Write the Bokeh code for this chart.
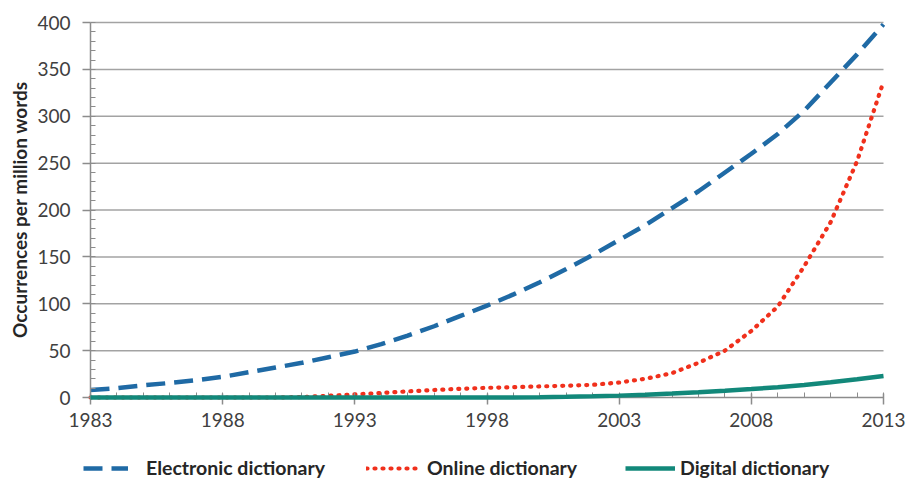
from bokeh.plotting import figure
from bokeh.models import FixedTicker, Legend, LegendItem, Range1d, Label
from bokeh.embed import file_html
from bokeh.resources import INLINE

years = [1983, 1984, 1985, 1986, 1987, 1988, 1989, 1990, 1991, 1992, 1993,
         1994, 1995, 1996, 1997, 1998, 1999, 2000, 2001, 2002, 2003, 2004,
         2005, 2006, 2007, 2008, 2009, 2010, 2011, 2012, 2013]
electronic = [8, 10, 13, 15.5, 18.5, 22, 27, 32, 37, 43, 49,
              57, 66, 76, 87, 98, 110, 123, 137, 152, 168, 184,
              202, 220, 240, 260, 281, 306, 336, 366, 398]
online = [0, 0, 0, 0, 0, 0, 0, 0, 0.5, 1.8, 3.3,
          4.8, 6.5, 8, 9.3, 10.3, 11, 11.8, 12.6, 13.5, 16, 20,
          26, 37, 50, 71, 97, 140, 187, 252, 337]
digital = [0, 0, 0, 0, 0, 0, 0, 0, 0, 0, 0,
           0, 0, 0, 0, 0, 0.1, 0.3, 0.7, 1.3, 2, 3,
           4.2, 5.6, 7.2, 9, 11, 13.3, 16.3, 19.5, 23]
x_ticks = [1983, 1988, 1993, 1998, 2003, 2008, 2013]
y_ticks = [0, 50, 100, 150, 200, 250, 300, 350, 400]
y_minor = [0, 10, 20, 30, 40, 50, 60, 70, 80, 90, 100, 110, 120, 130, 140,
           150, 160, 170, 180, 190, 200, 210, 220, 230, 240, 250, 260, 270,
           280, 290, 300, 310, 320, 330, 340, 350, 360, 370, 380, 390, 400]
series_names = ["Electronic dictionary", "Online dictionary", "Digital dictionary"]
y_title = "Occurrences per million words"

FONT = "Lato"
W, H = 906, 479
# pixel layout of the plotting area inside the page
PX_LEFT, PX_RIGHT, PX_TOP, PX_ZERO = 90, 883, 22, 397
x0, x1 = x_ticks[0], x_ticks[-1]
y0, y1 = y_ticks[0], y_ticks[-1]
sx = (PX_RIGHT - PX_LEFT) / (x1 - x0)
sy = (PX_ZERO - PX_TOP) / (y1 - y0)
x_range = Range1d(x0 - PX_LEFT / sx, x1 + (W - PX_RIGHT) / sx)
y_range = Range1d(y0 - (H - PX_ZERO) / sy, y1 + PX_TOP / sy)

p = figure(width=W, height=H, output_backend="svg", toolbar_location=None,
           x_range=x_range, y_range=y_range,
           min_border_left=0, min_border_right=0, min_border_top=0,
           min_border_bottom=0)
p.outline_line_color = None
p.background_fill_color = "white"
p.border_fill_color = "white"
p.grid.visible = False

# horizontal gridlines, limited to the data span
gl = p.segment(x0=[x0] * (len(y_ticks) - 1), x1=[x1] * (len(y_ticks) - 1),
               y0=y_ticks[1:], y1=y_ticks[1:],
               line_color="#a3a3a3", line_width=1.5)
gl.level = "underlay"

r_e = p.line(years, electronic, line_color="#1f6aa5", line_width=4.5,
             line_dash="19 9")
r_o = p.line(years, online, line_color="#f0301c", line_width=4.2,
             line_dash="1 7", line_cap="round")
r_d = p.line(years, digital, line_color="#12887a", line_width=4.5)
r_d.level = "overlay"

xa = p.xaxis[0]
xa.fixed_location = 0
xa.bounds = (x0, x1)
xa.ticker = FixedTicker(ticks=x_ticks, minor_ticks=years)
xa.axis_line_color = "#8c8c8c"
xa.axis_line_width = 1.5
xa.major_tick_line_color = "#8c8c8c"
xa.minor_tick_line_color = "#8c8c8c"
xa.major_tick_line_width = 1.5
xa.major_tick_out = 7
xa.major_tick_in = 4
xa.minor_tick_in = 5
xa.minor_tick_out = 0
xa.major_label_text_font = FONT
xa.major_label_text_font_size = "19px"
xa.major_label_text_color = "#404040"
xa.major_label_standoff = 8

ya = p.yaxis[0]
ya.fixed_location = x0
ya.bounds = (y0, y1)
ya.ticker = FixedTicker(ticks=y_ticks, minor_ticks=y_minor)
ya.axis_line_color = "#8c8c8c"
ya.axis_line_width = 1.5
ya.major_tick_line_color = "#8c8c8c"
ya.minor_tick_line_color = "#8c8c8c"
ya.major_tick_line_width = 1.5
ya.major_tick_out = 8
ya.major_tick_in = 0
ya.minor_tick_in = 5
ya.minor_tick_out = 0
ya.major_label_text_font = FONT
ya.major_label_text_font_size = "19px"
ya.major_label_text_color = "#404040"
ya.major_label_standoff = 12

title = Label(x=19, y=H - 209, x_units="screen", y_units="screen",
              text=y_title, angle=90, angle_units="deg",
              text_align="center", text_baseline="middle",
              text_font=FONT, text_font_style="bold",
              text_font_size="19px", text_color="#262626")
p.add_layout(title)

specs = [(r_e, series_names[0], 83, 45, 18),
         (r_o, series_names[1], 366, 52, 9),
         (r_d, series_names[2], 625, 50, 5)]
for rend, name, lx, gw, st in specs:
    lg = Legend(items=[LegendItem(label=name, renderers=[rend])],
                location=(lx, 0), orientation="horizontal",
                glyph_width=gw, glyph_height=20, label_height=20,
                label_standoff=st, padding=0, margin=0, spacing=0,
                border_line_color=None, background_fill_alpha=0,
                label_text_font=FONT, label_text_font_style="bold",
                label_text_font_size="19.5px", label_text_color="#262626")
    p.add_layout(lg, "center")

open("out.html", "w").write(file_html(p, INLINE))
